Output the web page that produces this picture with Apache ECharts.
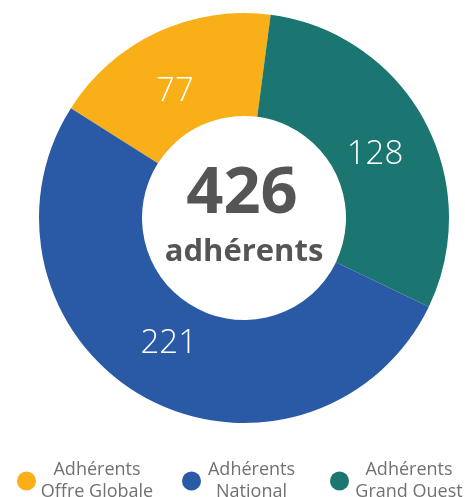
<!DOCTYPE html>
<html>
<head>
<meta charset="utf-8">
<script src="https://cdn.jsdelivr.net/npm/echarts@6/dist/echarts.min.js"></script>
<style>
  html, body { margin: 0; padding: 0; background: #fff; }
  #chart { width: 465px; height: 497px; }
</style>
</head>
<body>
<div id="chart"></div>
<script>
  // data, in drawing order (clockwise from the yellow slice)
  var names = ['Adhérents Offre Globale', 'Adhérents Grand Ouest', 'Adhérents National'];
  var values = [77, 128, 221];
  var colors = ['#F8AF18', '#1B7571', '#2A5AA6'];
  var legendOrder = ['Adhérents Offre Globale', 'Adhérents National', 'Adhérents Grand Ouest'];
  var centerLabel = 'adhérents';

  var total = values.reduce(function (a, b) { return a + b; }, 0);
  var font = '"Open Sans", "Noto Sans", sans-serif';

  // small nudges of the value labels, px
  var labelNudge = [[-6, 9], [0, 8], [-3, -5]];

  var pieData = names.map(function (n, i) {
    return { name: n, value: values[i], itemStyle: { color: colors[i] } };
  });

  // legend placement: icon left, text block width
  var legendPos = [
    { left: 12, width: 110, pad: 1 },
    { left: 177, width: 87, pad: 2 },
    { left: 325, width: 108, pad: 1 }
  ];

  var legends = legendOrder.map(function (n, i) {
    var p = legendPos[i];
    return {
      data: [n],
      left: p.left,
      top: 456,
      icon: 'circle',
      itemWidth: 19,
      itemHeight: 19,
      selectedMode: false,
      formatter: function (name) {
        var parts = name.split(' ');
        return '{a|' + parts[0] + '}\n{a|' + parts.slice(1).join(' ') + '}';
      },
      textStyle: {
        rich: {
          a: {
            width: p.width,
            align: 'center',
            padding: [0, 0, 0, p.pad],
            fontFamily: font,
            fontSize: 18,
            lineHeight: 22,
            color: '#717171'
          }
        }
      }
    };
  });

  var chart = echarts.init(document.getElementById('chart'));
  chart.setOption({
    animation: false,
    legend: legends,
    series: [
      {
        type: 'pie',
        center: [244, 218],
        radius: [102, 205],
        startAngle: 147.6,
        clockwise: true,
        silent: true,
        label: { show: false },
        labelLine: { show: false },
        itemStyle: { borderWidth: 0 },
        data: pieData
      },
      {
        // label ring, sits a bit nearer the hole
        type: 'pie',
        center: [244, 218],
        radius: [102, 190],
        startAngle: 147.6,
        clockwise: true,
        silent: true,
        itemStyle: { color: 'rgba(0,0,0,0)', borderWidth: 0 },
        label: {
          show: true,
          position: 'inside',
          formatter: '{c}',
          color: '#fff',
          fontFamily: font,
          fontWeight: 300,
          fontSize: 33
        },
        labelLayout: function (params) {
          var d = labelNudge[params.dataIndex];
          return { dx: d[0], dy: d[1] };
        },
        labelLine: { show: false },
        data: names.map(function (n, i) { return { name: n, value: values[i] }; })
      }
    ],
    graphic: [
      {
        type: 'text',
        style: {
          x: 242, y: 194,
          text: String(total),
          textAlign: 'center',
          textVerticalAlign: 'middle',
          fontFamily: font,
          fontWeight: 'bold',
          fontSize: 65,
          fill: '#555555'
        }
      },
      {
        type: 'text',
        style: {
          x: 244, y: 252,
          text: centerLabel,
          textAlign: 'center',
          textVerticalAlign: 'middle',
          fontFamily: font,
          fontWeight: 'bold',
          fontSize: 31,
          fill: '#555555'
        }
      }
    ]
  });
</script>
</body>
</html>
